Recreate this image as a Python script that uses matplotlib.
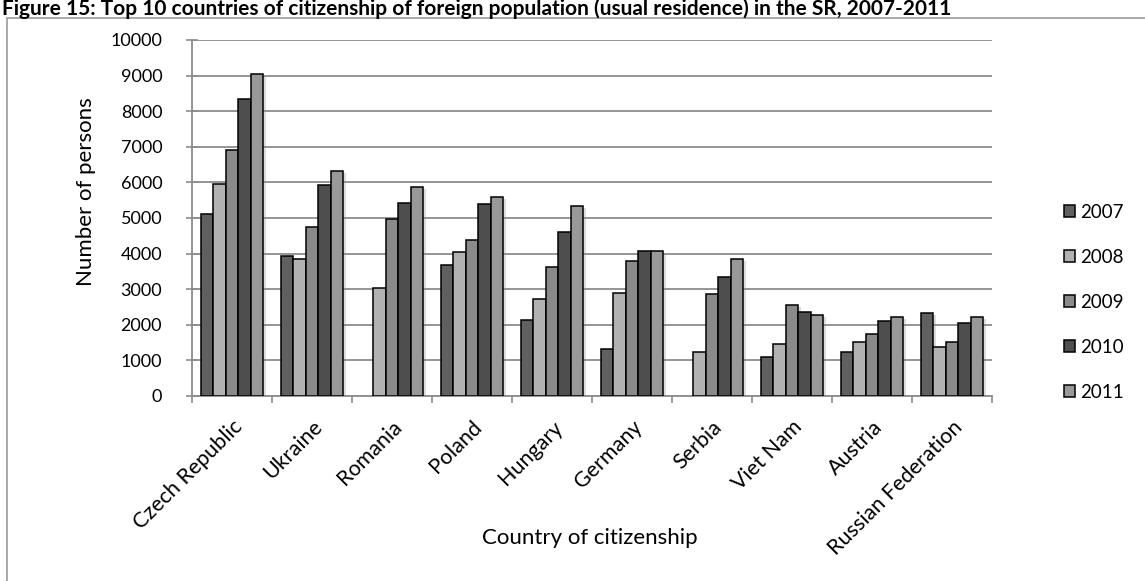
import numpy as np
import matplotlib as mpl
import matplotlib.pyplot as plt
from matplotlib.patches import Rectangle, Patch
from matplotlib.transforms import ScaledTranslation
import matplotlib.patheffects as pe

mpl.rcParams['font.family'] = ['Lato', 'DejaVu Sans']

# data
countries = ['Czech Republic', 'Ukraine', 'Romania', 'Poland', 'Hungary',
             'Germany', 'Serbia', 'Viet Nam', 'Austria', 'Russian Federation']
years = ['2007', '2008', '2009', '2010', '2011']
v2007 = [5110, 3930, 0, 3680, 2135, 1320, 0, 1105, 1236, 2322]
v2008 = [5964, 3840, 3042, 4036, 2725, 2902, 1236, 1461, 1508, 1376]
v2009 = [6910, 4747, 4981, 4390, 3624, 3801, 2856, 2547, 1732, 1508]
v2010 = [8351, 5918, 5431, 5383, 4616, 4073, 3351, 2369, 2097, 2051]
v2011 = [9036, 6320, 5880, 5598, 5337, 4073, 3848, 2266, 2229, 2229]
series = [v2007, v2008, v2009, v2010, v2011]
colors = ['#606060', '#b2b2b2', '#8a8a8a', '#4e4e4e', '#999999']

W, H = 1145, 581
fig = plt.figure(figsize=(W / 100, H / 100), dpi=100)
fig.patch.set_facecolor('white')

# outer chart frame
fig.patches.append(Rectangle((7 / W, -0.05), 1.1, 1 - 18 / H + 0.05,
                             transform=fig.transFigure, fill=False,
                             edgecolor='#9a9a9a', linewidth=1.2))

fig.text(2 / W, 1 - 15 / H,
         'Figure 15: Top 10 countries of citizenship of foreign population '
         '(usual residence) in the SR, 2007-2011',
         fontsize=15, fontweight='bold', va='baseline', ha='left')

ax = fig.add_axes([192 / W, 1 - 396 / H, 800 / W, 356 / H])

x = np.arange(len(countries))
n = len(series)
bw = 1.0 / (n + 1.35)
shadow = [pe.SimplePatchShadow(offset=(2, -1.5), shadow_rgbFace='#888888',
                               alpha=0.3), pe.Normal()]
for i, (vals, c) in enumerate(zip(series, colors)):
    pos = x + (i - (n - 1) / 2) * bw
    bars = ax.bar(pos, vals, width=bw, color=c, edgecolor='black',
                  linewidth=1.1, label=years[i], zorder=3)
    for b in bars:
        if b.get_height() > 0:
            b.set_path_effects(shadow)
        else:
            b.set_visible(False)

ax.set_xlim(-0.5, len(countries) - 0.5)
ax.set_ylim(0, 10000)
ax.set_yticks(np.arange(0, 10001, 1000))
ax.yaxis.grid(True, color='#8c8c8c', linewidth=1.3, zorder=0)
ax.set_axisbelow(True)

ax.set_xticks(x)
ax.set_xticklabels(countries, rotation=45, ha='right', rotation_mode='anchor',
                   fontsize=15.5)
shift = ScaledTranslation(-7 / 100, 0, fig.dpi_scale_trans)
for lab in ax.get_xticklabels():
    lab.set_transform(lab.get_transform() + shift)
ax.set_xticks(np.arange(-0.5, len(countries)), minor=True)
ax.tick_params(axis='x', which='major', length=0, pad=15)
ax.tick_params(axis='x', which='minor', length=5, color='#8c8c8c',
               direction='out', width=1.2)
ax.tick_params(axis='y', which='major', length=9, direction='inout',
               color='#8c8c8c', width=1.2, labelsize=13, pad=17)

for s in ['top', 'right']:
    ax.spines[s].set_visible(False)
for s in ['left', 'bottom']:
    ax.spines[s].set_color('#8c8c8c')
    ax.spines[s].set_linewidth(1.3)

fig.text(590 / W, 1 - 538 / H, 'Country of citizenship', fontsize=16,
         ha='center', va='center')
fig.text(86 / W, 1 - 192 / H, 'Number of persons', fontsize=16,
         rotation=90, ha='center', va='center')

handles = [Patch(facecolor=c, edgecolor='black', linewidth=1.1) for c in colors]
leg = fig.legend(handles, years, loc='upper left',
                 bbox_to_anchor=(1056 / W, 1 - 196 / H), frameon=False,
                 fontsize=13.5, handlelength=0.6, handleheight=0.6,
                 handletextpad=0.3, labelspacing=1.5, borderaxespad=0)

fig.savefig('out.png', dpi=100, facecolor='white')
